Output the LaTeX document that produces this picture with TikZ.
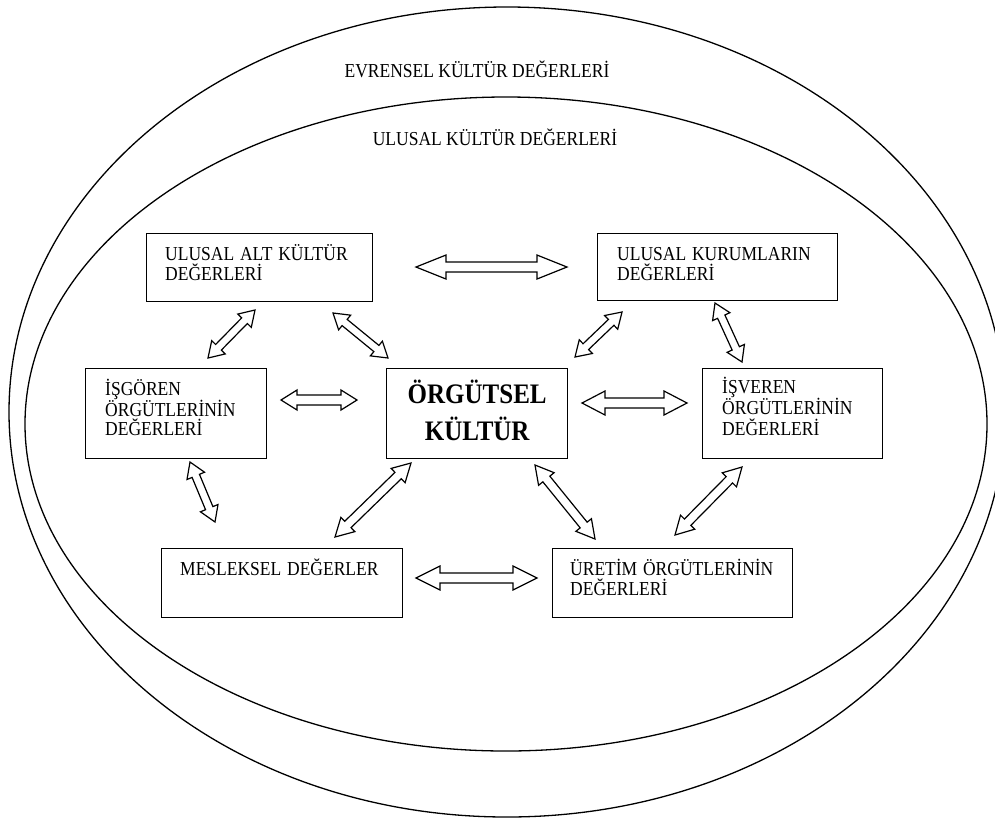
\documentclass[tikz,border=0pt]{standalone}
\usepackage{fontspec}
\usepackage{graphicx}
\setmainfont{Liberation Serif}
\usetikzlibrary{calc}

% slightly tall lettering
\newcommand\tall[1]{\scalebox{1}[1.13]{#1}}

% double-headed block arrow between two named points:
% #1 start, #2 end, #3 head length, #4 head half-width, #5 shaft half-width
\newcommand\twoway[5]{%
  \coordinate (ha) at ($(#1)!#3!(#2)$);
  \coordinate (hb) at ($(#2)!#3!(#1)$);
  \draw[blockarrow] (#1) -- ($(ha)!#4!90:(#2)$) -- ($(ha)!#5!90:(#2)$)
    -- ($(hb)!#5!-90:(#1)$) -- ($(hb)!#4!-90:(#1)$) -- (#2)
    -- ($(hb)!#4!90:(#1)$) -- ($(hb)!#5!90:(#1)$)
    -- ($(ha)!#5!-90:(#2)$) -- ($(ha)!#4!-90:(#2)$) -- cycle;}

\begin{document}
\begin{tikzpicture}[x=1pt,y=-1pt,
  ring/.style={line width=1.3pt},
  boxstyle/.style={draw, line width=1.4pt, inner sep=0pt, anchor=north west},
  lbl/.style={font=\fontsize{17.5}{20}\selectfont, align=left, inner sep=0pt,
    anchor=base west, text width=#1},
  lbl/.default=230pt,
  title/.style={font=\fontsize{17.5}{20}\selectfont, inner sep=0pt, anchor=base},
  blockarrow/.style={draw, fill=white, line width=1.2pt, line join=miter}]

\useasboundingbox (0,0) rectangle (995,820);

% surrounding value rings
\draw[ring] (507,412) ellipse [x radius=498pt, y radius=405pt];
\draw[ring] (506,424) ellipse [x radius=481pt, y radius=327pt];
\node[title] (evr) at (477,77) {\tall{EVRENSEL KÜLTÜR DEĞERLERİ}};
\node[title] (ulu) at (495,145) {\tall{ULUSAL KÜLTÜR DEĞERLERİ}};

% boxes
\node[boxstyle, minimum width=226pt, minimum height=68pt] (b1) at (146,233) {};
\node[boxstyle, minimum width=240pt, minimum height=67pt] (b2) at (597,233) {};
\node[boxstyle, minimum width=181pt, minimum height=90pt] (b3) at (85,368) {};
\node[boxstyle, minimum width=181pt, minimum height=90pt] (b4) at (386,368) {};
\node[boxstyle, minimum width=180pt, minimum height=90pt] (b5) at (702,368) {};
\node[boxstyle, minimum width=241pt, minimum height=69pt] (b6) at (161,548) {};
\node[boxstyle, minimum width=240pt, minimum height=69pt] (b7) at (552,548) {};

% box texts
\node[lbl] (t1) at ([shift={(19,27)}]b1.north west) {\tall{ULUSAL ALT KÜLTÜR}\\\tall{DEĞERLERİ}};
\node[lbl] (t2) at ([shift={(20,27)}]b2.north west) {\tall{ULUSAL KURUMLARIN}\\\tall{DEĞERLERİ}};
\node[lbl, font=\fontsize{17.5}{18.7}\selectfont] (t3) at ([shift={(20,27)}]b3.north west) {\tall{İŞGÖREN}\\\tall{ÖRGÜTLERİNİN}\\\tall{DEĞERLERİ}};
\node[lbl, font=\fontsize{17.5}{21}\selectfont] (t5) at ([shift={(20,25)}]b5.north west) {\tall{İŞVEREN}\\\tall{ÖRGÜTLERİNİN}\\\tall{DEĞERLERİ}};
\node[lbl] (t6) at ([shift={(19,27)}]b6.north west) {\tall{MESLEKSEL DEĞERLER}};
\node[lbl] (t7) at ([shift={(18,27)}]b7.north west) {\tall{ÜRETİM ÖRGÜTLERİNİN}\\\tall{DEĞERLERİ}};
\node[font=\bfseries\fontsize{25}{37}\selectfont, align=center, inner sep=0pt,
  anchor=base, text width=180pt] (t4) at ([shift={(0,35)}]b4.north) {\tall{ÖRGÜTSEL}\\\tall{KÜLTÜR}};

% arrow end points
\coordinate (a1) at (416,267); \coordinate (a2) at (567,267);
\coordinate (b1a) at (255,310); \coordinate (b1b) at (208,358);
\coordinate (c1) at (333,313); \coordinate (c2) at (388,358);
\coordinate (d1) at (622,312); \coordinate (d2) at (575,357);
\coordinate (e1) at (715,303); \coordinate (e2) at (742,362);
\coordinate (f1) at (281,400); \coordinate (f2) at (357,400);
\coordinate (g1) at (582,403); \coordinate (g2) at (687,403);
\coordinate (h1) at (190,462); \coordinate (h2) at (215,522);
\coordinate (i1) at (411,463); \coordinate (i2) at (335,537);
\coordinate (j1) at (535,465); \coordinate (j2) at (595,539);
\coordinate (k1) at (742,467); \coordinate (k2) at (675,535);
\coordinate (l1) at (416,578); \coordinate (l2) at (537,578);

% arrows
\twoway{a1}{a2}{30pt}{12pt}{5pt}
\twoway{b1a}{b1b}{15pt}{9.5pt}{4pt}
\twoway{c1}{c2}{15pt}{9.5pt}{4pt}
\twoway{d1}{d2}{15pt}{9.5pt}{4pt}
\twoway{e1}{e2}{15pt}{9.5pt}{4pt}
\twoway{f1}{f2}{16pt}{10pt}{5pt}
\twoway{g1}{g2}{23pt}{12pt}{5pt}
\twoway{h1}{h2}{15pt}{9.5pt}{4pt}
\twoway{i1}{i2}{18pt}{10pt}{4.5pt}
\twoway{j1}{j2}{18pt}{10pt}{4.5pt}
\twoway{k1}{k2}{18pt}{10pt}{4.5pt}
\twoway{l1}{l2}{24pt}{12pt}{5pt}
\end{tikzpicture}
\end{document}
